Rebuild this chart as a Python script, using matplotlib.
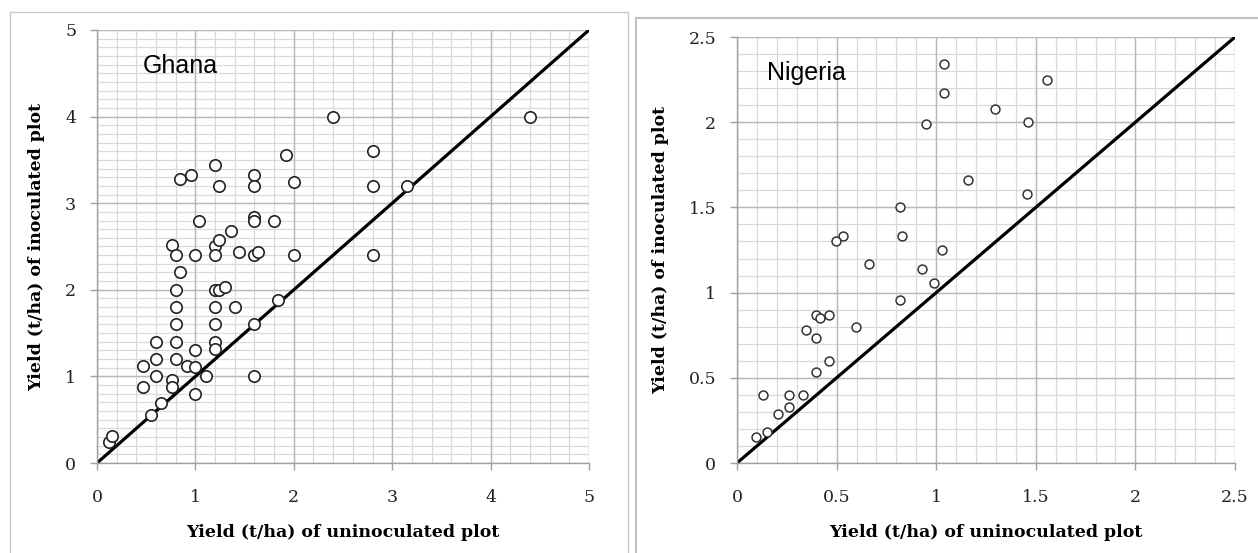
import matplotlib
matplotlib.use("Agg")
import matplotlib.pyplot as plt
from matplotlib.patches import Rectangle
import numpy as np

# ---------------- data ----------------
ghana_uninoc = [0.12, 0.15, 0.47, 0.47, 0.55, 0.6, 0.6, 0.6, 0.65, 0.76, 0.76, 0.76,
                0.8, 0.8, 0.8, 0.8, 0.8, 0.8, 0.84, 0.84, 0.96, 0.91, 1.0, 1.0, 1.0, 1.0,
                1.04, 1.11, 1.2, 1.2, 1.2, 1.2, 1.2, 1.2, 1.2, 1.2, 1.24, 1.24, 1.24, 1.3,
                1.36, 1.4, 1.44, 1.6, 1.6, 1.6, 1.6, 1.6, 1.6, 1.6, 1.64, 1.8, 1.84, 1.92,
                2.0, 2.0, 2.4, 2.8, 2.8, 2.8, 3.15, 4.4]
ghana_inoc = [0.24, 0.31, 1.12, 0.88, 0.55, 1.4, 1.2, 1.0, 0.69, 2.52, 0.96, 0.88,
              2.4, 2.0, 1.8, 1.6, 1.4, 1.2, 2.2, 3.28, 3.32, 1.12, 2.4, 1.31, 1.11, 0.8,
              2.8, 1.0, 3.44, 2.5, 2.4, 2.0, 1.8, 1.6, 1.4, 1.32, 3.2, 2.57, 2.0, 2.03,
              2.68, 1.8, 2.44, 3.32, 3.2, 2.84, 2.8, 2.4, 1.6, 1.0, 2.44, 2.8, 1.88, 3.56,
              3.24, 2.4, 4.0, 3.6, 3.2, 2.4, 3.2, 4.0]

nigeria_uninoc = [1.04, 1.04, 1.555, 1.295, 0.95, 1.46,
                  1.16, 1.455, 0.817, 0.53, 0.497, 0.83, 1.03, 0.663, 0.93, 0.99, 0.817,
                  0.397, 0.417, 0.463, 0.595, 0.345, 0.397, 0.463, 0.397, 0.13, 0.263,
                  0.33, 0.263, 0.208, 0.15, 0.097]
nigeria_inoc = [2.34, 2.17, 2.25, 2.08, 1.99, 2.0,
                1.66, 1.58, 1.50, 1.33, 1.30, 1.33, 1.25, 1.17, 1.14, 1.055, 0.957,
                0.87, 0.85, 0.87, 0.80, 0.78, 0.734, 0.60, 0.533, 0.40, 0.40,
                0.40, 0.33, 0.285, 0.183, 0.153]

ghana_ticks = [0, 1, 2, 3, 4, 5]
nigeria_ticks = [0, 0.5, 1, 1.5, 2, 2.5]
xlabel_text = "Yield (t/ha) of uninoculated plot"
ylabel_text = "Yield (t/ha) of inoculated plot"

# ---------------- figure ----------------
W, H = 1258, 553
fig = plt.figure(figsize=(W / 100, H / 100), dpi=100)

def fx(px):
    return px / W

def fy(py):
    return 1 - py / H

# panel borders
fig.patches.append(Rectangle((fx(10), fy(560)), fx(628) - fx(10), fy(12) - fy(560),
                             transform=fig.transFigure, fill=False, ec="#c8c8c8", lw=1.0))
fig.patches.append(Rectangle((fx(636), fy(560)), fx(1262) - fx(636), fy(18) - fy(560),
                             transform=fig.transFigure, fill=False, ec="#c0c0c0", lw=1.5))

serif = "DejaVu Serif"
minor_c = "#d9d9d9"
major_c = "#b8b8b8"


def setup(ax, lim, ticks, xminor, yminor, label, lx, ly):
    ax.set_xlim(0, lim)
    ax.set_ylim(0, lim)
    for x in np.arange(0, lim + 1e-9, xminor):
        ax.axvline(x, color=minor_c, lw=0.9, zorder=0)
    for y in np.arange(0, lim + 1e-9, yminor):
        ax.axhline(y, color=minor_c, lw=0.9, zorder=0)
    for t in ticks:
        ax.axvline(t, color=major_c, lw=1.0, zorder=0)
        ax.axhline(t, color=major_c, lw=1.0, zorder=0)
    ax.set_xticks(ticks)
    ax.set_yticks(ticks)
    ax.set_xticklabels([f"{t:g}" for t in ticks], fontfamily=serif, fontsize=12.5, color="#222222")
    ax.set_yticklabels([f"{t:g}" for t in ticks], fontfamily=serif, fontsize=12.5, color="#222222")
    ax.tick_params(axis="both", direction="out", length=5, width=1, color="#a0a0a0")
    ax.tick_params(axis="x", pad=14)
    ax.tick_params(axis="y", pad=10)
    for s in ["top", "right"]:
        ax.spines[s].set_visible(False)
    for s in ["left", "bottom"]:
        ax.spines[s].set_color("#a0a0a0")
        ax.spines[s].set_linewidth(1.0)
    ax.set_xlabel(xlabel_text, fontfamily=serif, fontweight="bold", fontsize=12.5, labelpad=13)
    ax.set_ylabel(ylabel_text, fontfamily=serif, fontweight="bold", fontsize=12.5, labelpad=14)
    ax.text(lx, ly, label, fontfamily="Liberation Sans", fontsize=18, va="center", ha="left")


# left (Ghana)
ax1 = fig.add_axes([fx(97), fy(463), fx(589) - fx(97), fy(30) - fy(463)])
setup(ax1, 5, ghana_ticks, 0.2, 0.1, "Ghana", 0.46, 4.58)
ax1.plot([0, 5], [0, 5], color="black", lw=2.3, zorder=2)
ax1.plot(ghana_uninoc, ghana_inoc, "o", ms=8.2, mfc="white", mec="#222222", mew=1.2,
         zorder=3, clip_on=False)

# right (Nigeria)
ax2 = fig.add_axes([fx(737), fy(463), fx(1235) - fx(737), fy(37) - fy(463)])
setup(ax2, 2.5, nigeria_ticks, 0.1, 0.1, "Nigeria", 0.15, 2.29)
ax2.plot([0, 2.5], [0, 2.5], color="black", lw=2.3, zorder=2)
ax2.plot(nigeria_uninoc, nigeria_inoc, "o", ms=6.4, mfc="white", mec="#333333", mew=1.1,
         zorder=3, clip_on=False)

fig.savefig("out.png", dpi=100)
